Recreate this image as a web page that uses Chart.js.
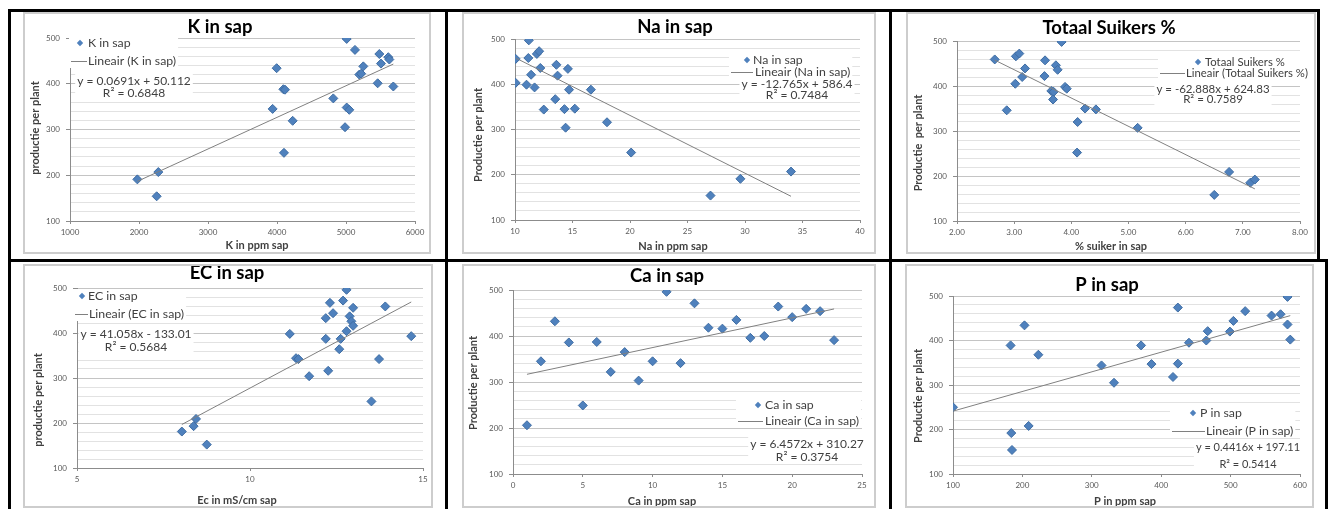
<!DOCTYPE html>
<html>
<head>
<meta charset="utf-8">
<script src="https://cdn.jsdelivr.net/npm/chart.js@4.4.1/dist/chart.umd.min.js"></script>
<style>
  html, body { margin: 0; padding: 0; background: #fff; width: 1330px; height: 509px; overflow: hidden; }
  .rule { position: absolute; background: #000; }
  .frame { position: absolute; box-sizing: border-box; border: 2px solid #cdcdcd; pointer-events: none; }
  canvas { position: absolute; }
</style>
</head>
<body>
<script>
// ---- Shared production axis (productie per plant) ----
const yTickLabels = [100, 200, 300, 400, 500];

// ---- K in sap ----
const kTicks = [1000, 2000, 3000, 4000, 5000, 6000];
const kX = [5010, 5130, 5483, 5613, 5628, 5507, 5251, 5193, 5220, 3995, 4092, 4116, 3937, 4227, 4101, 4816, 5010, 5048, 4986, 5459, 5686, 1976, 2280, 2256];
const kY = [498, 474, 465, 458, 453, 444, 438, 420, 422, 434, 388, 387, 345, 319, 249, 368, 348, 343, 305, 401, 394, 191, 207, 154];
const kFit = [0.0691, 50.112, 0.6848];

// ---- Na in sap ----
const naTicks = [10, 15, 20, 25, 30, 35, 40];
const naX = [11.2, 10.06, 11.16, 11.9, 12.1, 12.2, 13.6, 14.6, 11.4, 13.7, 10.06, 11.0, 11.7, 14.7, 16.6, 13.5, 12.5, 14.3, 15.2, 14.4, 18.0, 20.1, 29.6, 34.0, 27.0];
const naY = [497, 456, 458, 467, 473, 436, 443, 434, 421, 419, 403, 399, 393, 388, 388, 367, 344, 345, 346, 304, 316, 249, 191, 207, 154];
const naFit = [-12.765, 586.4, 0.7484];

// ---- Totaal Suikers % ----
const sugarTicks = [2, 3, 4, 5, 6, 7, 8];
const sugarX = [3.83, 2.66, 3.03, 3.09, 3.54, 3.73, 3.76, 3.19, 3.14, 3.53, 3.02, 3.89, 3.92, 3.65, 3.69, 3.68, 2.87, 4.24, 4.43, 4.11, 5.16, 4.10, 6.76, 7.13, 7.21, 6.50];
const sugarY = [498, 459, 466, 472, 457, 446, 436, 439, 420, 422, 405, 398, 394, 389, 387, 370, 346, 350, 348, 320, 307, 252, 209, 185, 192, 158];
const sugarFit = [-62.888, 624.83, 0.7589];

// ---- EC in sap ----
const ecTicks = [5, 10, 15];
const ecX = [12.79, 12.31, 12.69, 12.40, 12.19, 12.98, 13.91, 12.88, 12.93, 12.98, 12.79, 11.15, 14.66, 12.19, 12.62, 12.58, 11.33, 11.40, 13.73, 12.26, 11.71, 13.51, 8.44, 8.37, 8.03, 8.75];
const ecY = [496, 467, 472, 444, 433, 456, 459, 437, 426, 416, 404, 398, 393, 387, 387, 364, 344, 342, 342, 316, 304, 248, 209, 193, 181, 152];
const ecFit = [41.058, -133.01, 0.5684];

// ---- Ca in sap ----
const caTicks = [0, 5, 10, 15, 20, 25];
const caX = [1, 2, 3, 4, 5, 6, 7, 8, 9, 10, 11, 12, 13, 14, 15, 16, 17, 18, 19, 20, 21, 22, 23];
const caY = [206, 345, 432, 386, 249, 387, 322, 365, 303, 345, 496, 341, 471, 418, 416, 435, 396, 400, 464, 441, 459, 454, 391];
const caFit = [6.4572, 310.27, 0.3754];

// ---- P in sap ----
const pTicks = [100, 200, 300, 400, 500, 600];
const pX = [582, 424, 521, 559, 572, 582, 504, 203, 467, 499, 586, 465, 440, 183, 371, 223, 314, 386, 424, 417, 332, 100, 209, 184, 185];
const pY = [498, 474, 466, 456, 459, 436, 444, 434, 421, 420, 402, 400, 395, 389, 389, 368, 344, 347, 348, 318, 305, 250, 208, 192, 154];
const pFit = [0.4416, 197.11, 0.5414];

// ---- Page layout: table rules, chart frames and their contents ----
const FONT = 'Lato, "Liberation Sans", sans-serif';
const MARKER = '#4f81bd';
const TREND = '#808080';
const TEXT = '#404040';

const rules = [
  [8, 9, 1312, 3], [8, 9, 3, 500], [445, 9, 3, 500], [889, 9, 3, 500],
  [8, 259, 1320, 3], [1317, 9, 3, 253], [1325, 259, 3, 250]
];

const panels = [
  { title: 'K in sap', series: 'K in sap', xTitle: 'K in ppm sap', yTitle: 'productie per plant',
    xs: kX, ys: kY, fit: kFit, ticks: kTicks, dec: 0,
    frame: [23, 12, 408, 242], plot: [70, 38, 415, 221], titlePos: [220, 27],
    xTitlePos: [257, 245], yTitlePos: [35, 128], legSize: 12.3, eqSize: 12,
    leg: { mx: 80, my: 43, tx: 88, ly: 61, lx1: 71, lx2: 87, ltx: 88 }, eq: { x: 134, y1: 81, y2: 93 } },
  { title: 'Na in sap', series: 'Na in sap', xTitle: 'Na in ppm sap', yTitle: 'Productie per plant',
    xs: naX, ys: naY, fit: naFit, ticks: naTicks, dec: 0,
    frame: [462, 12, 414, 242], plot: [515, 39, 860, 220], titlePos: [675, 27],
    xTitlePos: [673, 246], yTitlePos: [478, 135], legSize: 12.3, eqSize: 12,
    leg: { mx: 747, my: 60, tx: 753, ly: 72, lx1: 731, lx2: 753, ltx: 755 }, eq: { x: 797, y1: 84, y2: 95 } },
  { title: 'Totaal Suikers %', series: 'Totaal Suikers %', xTitle: '% suiker in sap', yTitle: 'Productie  per plant',
    xs: sugarX, ys: sugarY, fit: sugarFit, ticks: sugarTicks, dec: 2,
    frame: [906, 12, 410, 242], plot: [957, 41, 1300, 221], titlePos: [1109, 28],
    xTitlePos: [1111, 246], yTitlePos: [918, 143], legSize: 11.3, eqSize: 11.5,
    leg: { mx: 1198, my: 62, tx: 1205, ly: 73, lx1: 1160, lx2: 1185, ltx: 1186 }, eq: { x: 1213, y1: 89, y2: 99 } },
  { title: 'EC in sap', series: 'EC in sap', xTitle: 'Ec in mS/cm sap', yTitle: 'productie per plant',
    xs: ecX, ys: ecY, fit: ecFit, ticks: ecTicks, dec: 0,
    frame: [23, 264, 410, 244], plot: [77, 288, 423, 468], titlePos: [227, 273],
    xTitlePos: [237, 500], yTitlePos: [38, 400], legSize: 12.3, eqSize: 12,
    leg: { mx: 82, my: 296, tx: 88, ly: 314, lx1: 75, lx2: 88, ltx: 89 }, eq: { x: 136, y1: 334, y2: 347 } },
  { title: 'Ca in sap', series: 'Ca in sap', xTitle: 'Ca in ppm sap', yTitle: 'Productie per plant',
    xs: caX, ys: caY, fit: caFit, ticks: caTicks, dec: 0,
    frame: [462, 264, 414, 244], plot: [513, 290, 862, 474], titlePos: [667, 276],
    xTitlePos: [662, 501], yTitlePos: [473, 383], legSize: 12.3, eqSize: 12,
    leg: { mx: 758, my: 405, tx: 765, ly: 421, lx1: 738, lx2: 763, ltx: 765 }, eq: { x: 807, y1: 444, y2: 457 } },
  { title: 'P in sap', series: 'P in sap', xTitle: 'P in ppm sap', yTitle: 'Productie per plant',
    xs: pX, ys: pY, fit: pFit, ticks: pTicks, dec: 0,
    frame: [905, 264, 409, 244], plot: [953, 296, 1300, 474], titlePos: [1107, 285],
    xTitlePos: [1125, 501], yTitlePos: [918, 396], legSize: 12.3, eqSize: 11,
    leg: { mx: 1193, my: 413, tx: 1200, ly: 431, lx1: 1172, lx2: 1205, ltx: 1206 }, eq: { x: 1248, y1: 447, y2: 464 } }
];

for (const r of rules) {
  const d = document.createElement('div');
  d.className = 'rule';
  Object.assign(d.style, { left: r[0] + 'px', top: r[1] + 'px', width: r[2] + 'px', height: r[3] + 'px' });
  document.body.appendChild(d);
}

function equationText(fit) {
  const sign = fit[1] < 0 ? '-' : '+';
  return 'y = ' + fit[0] + 'x ' + sign + ' ' + Math.abs(fit[1]);
}

function drawDiamond(ctx, x, y, r) {
  ctx.beginPath();
  ctx.moveTo(x, y - r); ctx.lineTo(x + r, y); ctx.lineTo(x, y + r); ctx.lineTo(x - r, y);
  ctx.closePath();
  ctx.fill();
}

// Titles, legend and trendline equation drawn inside each chart
function makeAnnotations(p) {
  const ox = p.frame[0], oy = p.frame[1];
  const eqLines = [equationText(p.fit), 'R\u00b2 = ' + p.fit[2]];
  const legFont = p.legSize + 'px ' + FONT;
  const eqFont = p.eqSize + 'px ' + FONT;
  const axisFont = 'bold 11px ' + FONT;
  function boxes(ctx) {
    const L = p.leg;
    ctx.font = legFont;
    const w1 = ctx.measureText(p.series).width, w2 = ctx.measureText('Lineair (' + p.series + ')').width;
    const left = Math.min(L.mx - 5, L.lx1) - ox - 2;
    const right = Math.max(L.tx + w1, L.ltx + w2) - ox + 2;
    const list = [[left, L.my - oy - 7, right - left, L.ly - L.my + 14]];
    ctx.font = eqFont;
    const we = Math.max(ctx.measureText(eqLines[0]).width, ctx.measureText(eqLines[1]).width);
    list.push([p.eq.x - ox - we / 2 - 2, p.eq.y1 - oy - 7, we + 4, p.eq.y2 - p.eq.y1 + 14]);
    return list;
  }
  return {
    id: 'annotations',
    beforeDatasetsDraw(chart) {
      const ctx = chart.ctx;
      ctx.save();
      ctx.fillStyle = '#fff';
      for (const b of boxes(ctx)) ctx.fillRect(b[0], b[1], b[2], b[3]);
      ctx.restore();
    },
    afterDraw(chart) {
      const ctx = chart.ctx;
      const L = p.leg;
      ctx.save();
      ctx.textBaseline = 'middle';
      // chart title
      ctx.fillStyle = '#000';
      ctx.textAlign = 'center';
      ctx.font = 'bold 18.5px ' + FONT;
      ctx.fillText(p.title, p.titlePos[0] - ox, p.titlePos[1] - oy);
      // axis titles
      ctx.fillStyle = TEXT;
      ctx.font = axisFont;
      ctx.fillText(p.xTitle, p.xTitlePos[0] - ox, p.xTitlePos[1] - oy);
      ctx.save();
      ctx.translate(p.yTitlePos[0] - ox, p.yTitlePos[1] - oy);
      ctx.rotate(-Math.PI / 2);
      ctx.fillText(p.yTitle, 0, 0);
      ctx.restore();
      // legend entries
      ctx.font = legFont;
      ctx.textAlign = 'left';
      ctx.fillStyle = MARKER;
      drawDiamond(ctx, L.mx - ox, L.my - oy, 3.2);
      ctx.fillStyle = TEXT;
      ctx.fillText(p.series, L.tx - ox, L.my - oy);
      ctx.strokeStyle = TREND;
      ctx.lineWidth = 1;
      ctx.beginPath();
      ctx.moveTo(L.lx1 - ox, L.ly - oy + 0.5);
      ctx.lineTo(L.lx2 - ox, L.ly - oy + 0.5);
      ctx.stroke();
      ctx.fillText('Lineair (' + p.series + ')', L.ltx - ox, L.ly - oy);
      // trendline equation and R squared
      ctx.font = eqFont;
      ctx.textAlign = 'center';
      ctx.fillText(eqLines[0], p.eq.x - ox, p.eq.y1 - oy);
      ctx.fillText(eqLines[1], p.eq.x - ox, p.eq.y2 - oy);
      ctx.restore();
    }
  };
}

for (const p of panels) {
  const [fx, fy, fw, fh] = p.frame;
  const [pl, pt, pr, pb] = p.plot;
  const cv = document.createElement('canvas');
  cv.width = fw; cv.height = fh;
  Object.assign(cv.style, { left: fx + 'px', top: fy + 'px', width: fw + 'px', height: fh + 'px' });
  document.body.appendChild(cv);
  const fr = document.createElement('div');
  fr.className = 'frame';
  Object.assign(fr.style, { left: fx + 'px', top: fy + 'px', width: fw + 'px', height: fh + 'px' });
  document.body.appendChild(fr);

  const yAxisW = pl - fx;
  const xAxisH = fy + fh - pb;
  const points = p.xs.map((x, i) => ({ x: x, y: p.ys[i] }));
  const xMin = Math.min(...p.xs), xMax = Math.max(...p.xs);
  const trend = [xMin, xMax].map(x => ({ x: x, y: p.fit[0] * x + p.fit[1] }));
  const ticks = p.ticks;

  new Chart(cv, {
    type: 'scatter',
    data: {
      datasets: [
        { type: 'line', data: trend, borderColor: TREND, borderWidth: 1, pointRadius: 0, fill: false, order: 0 },
        { data: points, pointStyle: 'rectRot', pointRadius: 4.5, backgroundColor: MARKER,
          borderColor: '#3f6da3', borderWidth: 1, order: 1 }
      ]
    },
    options: {
      responsive: false,
      animation: false,
      events: [],
      layout: { padding: { left: 0, top: pt - fy, right: fx + fw - pr, bottom: 0 } },
      plugins: { legend: { display: false }, tooltip: { enabled: false }, title: { display: false } },
      scales: {
        x: {
          type: 'linear',
          min: ticks[0], max: ticks[ticks.length - 1],
          afterFit(s) { s.height = xAxisH; },
          ticks: {
            stepSize: ticks[1] - ticks[0], autoSkip: false, maxRotation: 0, padding: 4,
            color: '#595959', font: { size: 8, family: FONT },
            callback: v => Number(v).toFixed(p.dec)
          },
          grid: { drawOnChartArea: false, tickLength: 3, color: '#8c8c8c' },
          border: { color: '#8c8c8c' },
          title: { display: false }
        },
        y: {
          type: 'linear',
          min: yTickLabels[0], max: yTickLabels[yTickLabels.length - 1],
          afterFit(s) { s.width = yAxisW; },
          ticks: {
            stepSize: 20, autoSkip: false, padding: 6,
            color: '#595959', font: { size: 8, family: FONT },
            callback: v => (yTickLabels.includes(v) ? String(v) : '')
          },
          grid: {
            color: c => (c.tick && yTickLabels.includes(c.tick.value) ? '#c4c4c4' : '#e2e2e2'),
            tickColor: c => (c.tick && yTickLabels.includes(c.tick.value) ? '#8c8c8c' : 'rgba(0,0,0,0)'),
            tickLength: 4
          },
          border: { color: '#8c8c8c' },
          title: { display: false }
        }
      }
    },
    plugins: [makeAnnotations(p)]
  });
}
</script>
</body>
</html>
